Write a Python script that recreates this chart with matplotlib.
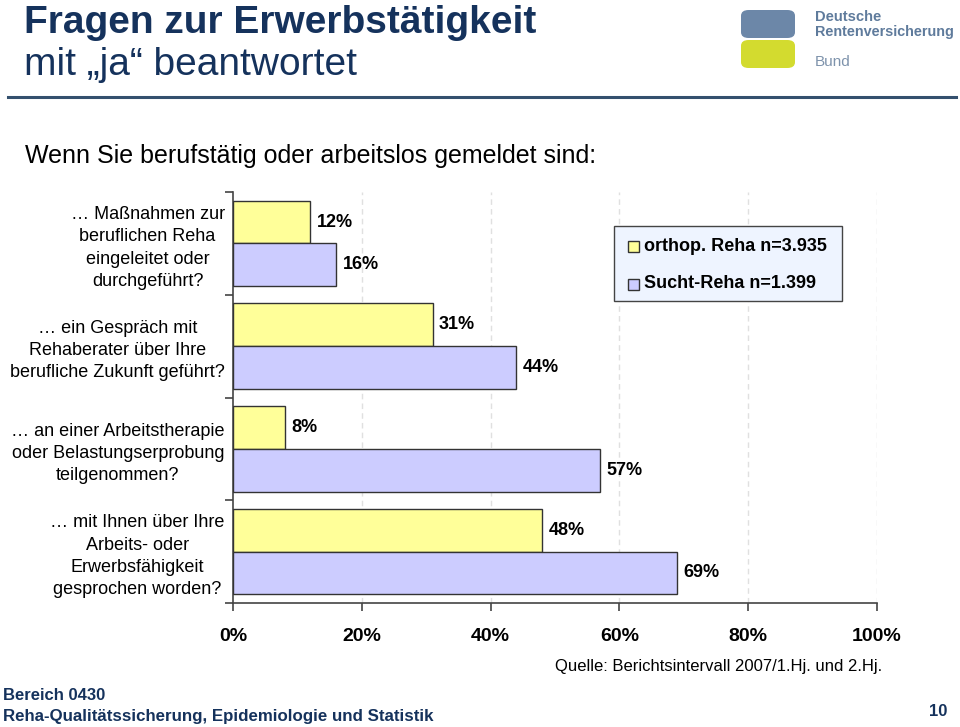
import numpy as np
import matplotlib.pyplot as plt
from matplotlib.patches import FancyBboxPatch, Rectangle
from matplotlib.lines import Line2D

#%%
categories = ["… Maßnahmen zur\nberuflichen Reha\neingeleitet oder\ndurchgeführt?",
              "… ein Gespräch mit\nRehaberater über Ihre\nberufliche Zukunft geführt?",
              "… an einer Arbeitstherapie\noder Belastungserprobung\nteilgenommen?",
              "… mit Ihnen über Ihre\nArbeits- oder\nErwerbsfähigkeit\ngesprochen worden?"]
orthop = [12, 31, 8, 48]
sucht = [16, 44, 57, 69]
series_names = ["orthop. Reha n=3.935", "Sucht-Reha n=1.399"]
xticks = [0, 20, 40, 60, 80, 100]

navy = "#15325C"
yellow = "#FFFF99"
lilac = "#CCCCFF"

plt.rcParams["font.family"] = "Liberation Sans"

#%%
fig = plt.figure(figsize=(9.6, 7.27), dpi=100)
W, H = 960, 727

def fx(px):
    return px / W

def fy(py):
    return 1 - py / H

# header
fig.text(fx(24), fy(23), "Fragen zur Erwerbstätigkeit", fontsize=28, fontweight="bold",
         color=navy, va="center")
fig.text(fx(24), fy(65), "mit „ja“ beantwortet", fontsize=28, color=navy, va="center")
fig.add_artist(Line2D([fx(8), fx(956)], [fy(97), fy(97)], color="#34506E", lw=2.2))

# logo
fig.add_artist(FancyBboxPatch((fx(741), fy(38)), fx(54), fy(10) - fy(38),
                              boxstyle="round,pad=0,rounding_size=0.008",
                              fc="#6C87A8", ec="none"))
fig.add_artist(FancyBboxPatch((fx(741), fy(68)), fx(54), fy(40) - fy(68),
                              boxstyle="round,pad=0,rounding_size=0.008",
                              fc="#D3DB2F", ec="none"))
fig.text(fx(815), fy(17), "Deutsche", fontsize=10.6, fontweight="bold", color="#5F7B9C", va="center")
fig.text(fx(815), fy(32), "Rentenversicherung", fontsize=10.4, fontweight="bold", color="#5F7B9C", va="center")
fig.text(fx(815), fy(62), "Bund", fontsize=11, color="#7E93AC", va="center")

fig.text(fx(25), fy(156), "Wenn Sie berufstätig oder arbeitslos gemeldet sind:", fontsize=18,
         va="center")

#%%
ax = fig.add_axes([fx(233), fy(603), fx(877) - fx(233), fy(192) - fy(603)])
y = np.arange(len(categories))
h = 0.415
ax.barh(y - h / 2, orthop, height=h, color=yellow, edgecolor="#333333", lw=1, zorder=3)
ax.barh(y + h / 2, sucht, height=h, color=lilac, edgecolor="#333333", lw=1, zorder=3)
for i in range(len(categories)):
    ax.text(orthop[i] + 1, y[i] - h / 2, f"{orthop[i]}%", va="center", ha="left",
            fontsize=13, fontweight="bold")
    ax.text(sucht[i] + 1, y[i] + h / 2, f"{sucht[i]}%", va="center", ha="left",
            fontsize=13, fontweight="bold")

ax.set_xlim(0, 100)
ax.set_ylim(len(categories) - 0.5, -0.5)
ax.set_xticks(xticks)
ax.set_xticklabels([f"{t}%" for t in xticks], fontsize=14, fontweight="bold")
ax.tick_params(axis="x", length=6, width=1.2, pad=12, colors="#444444", labelcolor="black")
ax.set_yticks(y)
ax.set_yticklabels(categories, fontsize=13, multialignment="center", linespacing=1.4)
ax.tick_params(axis="y", length=0, pad=6)
ax.set_yticks(np.arange(len(categories) + 1) - 0.5, minor=True)
ax.tick_params(axis="y", which="minor", length=6, width=1.2, colors="#444444")
for t in xticks[1:]:
    ax.axvline(t, color="#E0E0E0", ls=(0, (4, 3)), lw=1, zorder=0)
for s in ["top", "right"]:
    ax.spines[s].set_visible(False)
ax.spines["left"].set_color("#444444")
ax.spines["bottom"].set_color("#444444")
ax.spines["left"].set_linewidth(1.2)
ax.spines["bottom"].set_linewidth(1.2)

# legend
fig.add_artist(Rectangle((fx(614), fy(301)), fx(842) - fx(614), fy(226) - fy(301),
                         fc="#EEF4FF", ec="#444444", lw=1, zorder=5))
for j, (name, col) in enumerate(zip(series_names, [yellow, lilac])):
    yy = 246 + j * 38
    fig.add_artist(Rectangle((fx(628), fy(yy + 6)), fx(11), fy(yy - 5) - fy(yy + 6),
                             fc=col, ec="#333333", lw=1, zorder=6))
    fig.text(fx(644), fy(yy), name, fontsize=13, fontweight="bold", va="center", zorder=6)

# footer
fig.text(fx(555), fy(667), "Quelle: Berichtsintervall 2007/1.Hj. und 2.Hj.", fontsize=12,
         va="center")
fig.text(fx(3), fy(695), "Bereich 0430", fontsize=12, fontweight="bold",
         color=navy, va="center")
fig.text(fx(3), fy(716), "Reha-Qualitätssicherung, Epidemiologie und Statistik", fontsize=12.2,
         fontweight="bold", color=navy, va="center")
fig.text(fx(947), fy(712), "10", fontsize=12, fontweight="bold",
         color=navy, va="center", ha="right")

fig.savefig("out.png", dpi=100)
